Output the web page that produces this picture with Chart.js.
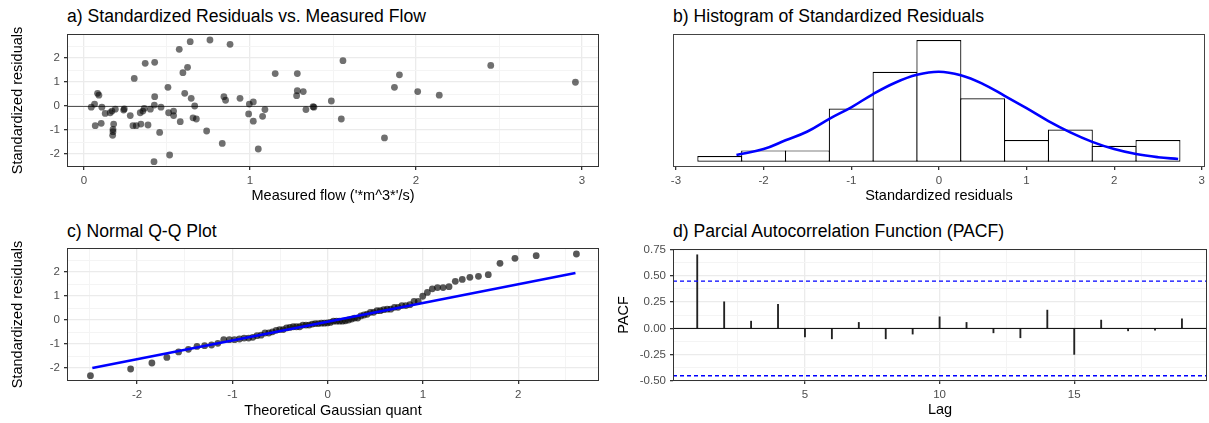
<!DOCTYPE html>
<html>
<head>
<meta charset="utf-8">
<script src="https://cdn.jsdelivr.net/npm/chart.js@4.4.1/dist/chart.umd.min.js"></script>
<style>
    body { margin: 0; background: #fff; width: 1209px; height: 423px; overflow: hidden; position: relative; font-family: "Liberation Sans", Arial, sans-serif; }
    canvas { position: absolute; }
    .ttl { position: absolute; font-size: 17.6px; line-height: 17px; color: #000; white-space: nowrap; }
</style>
</head>
<body>

<div class="ttl" style="left:67px; top:8px">a) Standardized Residuals vs. Measured Flow</div>
<div class="ttl" style="left:673px; top:8px">b) Histogram of Standardized Residuals</div>
<div class="ttl" style="left:67px; top:223px">c) Normal Q-Q Plot</div>
<div class="ttl" style="left:673px; top:223px">d) Parcial Autocorrelation Function (PACF)</div>

<canvas id="chartA" width="604" height="210" style="left:0; top:0"></canvas>
<canvas id="chartB" width="605" height="210" style="left:604px; top:0"></canvas>
<canvas id="chartC" width="604" height="213" style="left:0; top:210px"></canvas>
<canvas id="chartD" width="605" height="213" style="left:604px; top:210px"></canvas>

<script>
// a) residuals vs measured flow
const flow = [0.044, 0.064, 0.082, 0.090, 0.068, 0.104, 0.108, 0.128, 0.158, 0.169,
    0.189, 0.179, 0.175, 0.175, 0.173, 0.239, 0.243, 0.279, 0.303, 0.295,
    0.315, 0.343, 0.339, 0.355, 0.363, 0.386, 0.369, 0.426, 0.400, 0.424,
    0.426, 0.456, 0.464, 0.422, 0.506, 0.510, 0.540, 0.540, 0.516, 0.580,
    0.574, 0.596, 0.624, 0.640, 0.607, 0.646, 0.667, 0.657, 0.677, 0.759,
    0.880, 0.739, 0.843, 0.853, 0.833, 0.940, 0.996, 1.020, 0.992, 1.020,
    1.050, 1.076, 1.090, 1.152, 1.285, 1.285, 1.321, 1.281, 1.337, 1.380,
    1.385, 1.490, 1.560, 1.550, 1.810, 1.870, 1.900, 2.010, 2.140, 2.450,
    2.960];
const resid = [-0.05, 0.08, 0.53, 0.45, -0.82, -0.72, -0.05, -0.31, -0.28, -0.21,
    -0.13, -0.75, -0.97, -1.07, -1.22, -0.17, -0.12, -0.40, 1.15, -0.82,
    -0.82, -0.75, -0.28, -0.21, -0.10, -0.79, 1.78, 1.82, -0.13, 0.04,
    0.39, -1.10, -0.05, -2.32, 0.78, -0.28, -0.21, -0.40, -2.04, -0.65,
    2.36, 1.39, 1.61, 2.68, 0.53, 0.32, 0.00, -0.49, -0.54, 2.75,
    2.57, -1.04, 0.39, 0.24, -1.56, 0.32, 0.08, 0.17, -0.33, -0.63,
    -1.79, -0.43, -0.15, 1.35, 1.35, 0.64, 0.60, 0.43, -0.15, -0.03,
    -0.05, 0.21, 1.89, -0.54, -1.33, 0.78, 1.30, 0.60, 0.45, 1.69,
    0.99];

// b) histogram (density) and normal curve
const histMid = [-2.5, -2, -1.5, -1, -0.5, 0, 0.5, 1, 1.5, 2, 2.5];
const histDensity = [0.025, 0.050, 0.050, 0.236, 0.399, 0.539, 0.281, 0.096, 0.143, 0.071, 0.096];
const curveX = [-2.31, -2.0, -1.75, -1.5, -1.25, -1.0, -0.75, -0.5, -0.25, 0, 0.25, 0.5, 0.75, 1.0, 1.25, 1.5, 1.75, 2.0, 2.25, 2.5, 2.73];
const curveY = [0.030, 0.056, 0.095, 0.134, 0.190, 0.241, 0.300, 0.350, 0.385, 0.399, 0.383, 0.345, 0.292, 0.237, 0.180, 0.130, 0.088, 0.056, 0.034, 0.020, 0.012];

// c) theoretical quantiles (read off the plot) + reference line
const qqTheo = [-2.49, -2.068, -1.845, -1.688, -1.565, -1.462, -1.372, -1.292, -1.219, -1.153,
    -1.091, -1.032, -0.978, -0.926, -0.877, -0.830, -0.786, -0.742, -0.699, -0.658,
    -0.618, -0.580, -0.541, -0.504, -0.467, -0.432, -0.397, -0.362, -0.328, -0.294,
    -0.261, -0.228, -0.195, -0.162, -0.131, -0.099, -0.066, -0.035, -0.003, 0.028,
    0.06, 0.092, 0.123, 0.155, 0.186, 0.219, 0.251, 0.282, 0.315, 0.348,
    0.381, 0.414, 0.448, 0.482, 0.517, 0.552, 0.587, 0.624, 0.661, 0.700,
    0.738, 0.778, 0.819, 0.862, 0.906, 0.950, 0.997, 1.046, 1.098, 1.152,
    1.211, 1.273, 1.339, 1.412, 1.492, 1.582, 1.685, 1.808, 1.965, 2.188,
    2.61];
const qqLineX = [-2.47, 2.6];
const qqLineY = [-2.0, 1.96];

// d) PACF
const lags = [1, 2, 3, 4, 5, 6, 7, 8, 9, 10, 11, 12, 13, 14, 15, 16, 17, 18, 19];
const pacf = [0.70, 0.253, 0.069, 0.228, -0.08, -0.099, 0.057, -0.099, -0.054, 0.11,
    0.057, -0.042, -0.089, 0.174, -0.247, 0.079, -0.023, -0.016, 0.091];
const confLimits = [0.45, -0.45];

// tick / grid values
const aTicksX = [0, 1, 2, 3];
const aMinorX = [0.5, 1.5, 2.5];
const resTicksY = [-2, -1, 0, 1, 2];
const resMinorY = [-1.5, -0.5, 0.5, 1.5, 2.5];
const bTicksX = [-3, -2, -1, 0, 1, 2, 3];
const cTicksX = [-2, -1, 0, 1, 2];
const cMinorX = [-2.5, -1.5, -0.5, 0.5, 1.5, 2.5];
const dTicksX = [5, 10, 15];
const dMinorX = [2.5, 7.5, 12.5, 17.5];
const dTicksY = [-0.5, -0.25, 0, 0.25, 0.5, 0.75];
const dMinorY = [-0.375, -0.125, 0.125, 0.375, 0.625];

const FONT = "'Liberation Sans', Arial, sans-serif";
Chart.defaults.font.family = FONT;

function axis(o) {
    const major = o.major;
    const all = major.concat(o.minor || []).sort((a, b) => a - b);
    const isMajor = (c) => c.tick && major.includes(c.tick.value);
    return {
        type: "linear",
        position: o.position,
        min: o.min,
        max: o.max,
        offset: false,
        afterBuildTicks: (s) => { s.ticks = all.map((v) => ({ value: v })); },
        afterFit: (s) => {
            if(o.position == "bottom") s.height = o.size; else s.width = o.size;
        },
        border: { display: false },
        grid: {
            display: true,
            offset: false,
            drawOnChartArea: o.grid !== false,
            color: (c) => isMajor(c) ? "#EBEBEB" : "#F4F4F4",
            lineWidth: (c) => isMajor(c) ? 1.3 : 1,
            tickLength: 3,
            tickColor: (c) => isMajor(c) ? "#333333" : "rgba(0,0,0,0)"
        },
        ticks: {
            autoSkip: false,
            maxRotation: 0,
            padding: 4,
            color: "#4D4D4D",
            font: { size: 11.5 },
            callback: (v) => major.includes(v) ? (o.fmt ? o.fmt(v) : String(v)) : ""
        },
        title: {
            display: !!o.title,
            text: o.title,
            color: "#000",
            font: { size: 14.5 },
            padding: { top: o.titlePad, bottom: o.titlePad }
        }
    };
}

// frame around the panel + horizontal reference lines
function framePlugin(hlines, frameColor) {
    return {
        id: "frame",
        afterDatasetsDraw(chart) {
            const { ctx, chartArea: a, scales } = chart;
            hlines.forEach((h) => {
                const y = scales.y.getPixelForValue(h.value);
                ctx.save();
                ctx.strokeStyle = h.color;
                ctx.lineWidth = h.width || 1;
                ctx.setLineDash(h.dash || []);
                ctx.beginPath();
                ctx.moveTo(a.left, y);
                ctx.lineTo(a.right, y);
                ctx.stroke();
                ctx.restore();
            });
        },
        afterDraw(chart) {
            const { ctx, chartArea: a } = chart;
            ctx.save();
            ctx.strokeStyle = frameColor;
            ctx.lineWidth = 1;
            ctx.setLineDash([]);
            ctx.strokeRect(Math.round(a.left) + 0.5, Math.round(a.top) + 0.5,
                Math.round(a.right - a.left) - 1, Math.round(a.bottom - a.top) - 1);
            ctx.restore();
        }
    };
}

function baseOptions(padding) {
    return {
        responsive: false,
        animation: false,
        devicePixelRatio: 1,
        layout: { padding: padding },
        plugins: { legend: { display: false }, tooltip: { enabled: false } }
    };
}

// ---- a)
const optA = baseOptions({ left: 0, top: 34, right: 5, bottom: 0 });
optA.scales = {
    x: axis({ position: "bottom", min: -0.102, max: 3.102, major: aTicksX, minor: aMinorX, size: 43,
        title: "Measured flow ('*m^3*'/s)", titlePad: 5.3 }),
    y: axis({ position: "left", min: -2.54, max: 3.0, major: resTicksY, minor: resMinorY, size: 67,
        title: "Standardized residuals", titlePad: 9 })
};
new Chart(document.getElementById("chartA"), {
    type: "scatter",
    data: {
        datasets: [{
            data: flow.map((f, i) => ({ x: f, y: resid[i] })),
            backgroundColor: "rgba(0,0,0,0.56)",
            borderWidth: 0,
            pointRadius: 3.4
        }]
    },
    options: optA,
    plugins: [{
        id: "zeroA",
        beforeDatasetsDraw(chart) {
            const { ctx, chartArea: a, scales } = chart;
            const y = Math.round(scales.y.getPixelForValue(0)) + 0.5;
            ctx.save();
            ctx.strokeStyle = "#555555";
            ctx.lineWidth = 1;
            ctx.beginPath();
            ctx.moveTo(a.left, y);
            ctx.lineTo(a.right, y);
            ctx.stroke();
            ctx.restore();
        }
    }, framePlugin([], "#333333")]
});

// ---- b)
const optB = baseOptions({ left: 69, top: 34, right: 3, bottom: 0 });
optB.scales = {
    x: axis({ position: "bottom", min: -3.034, max: 3.034, major: bTicksX, size: 43, grid: false,
        title: "Standardized residuals", titlePad: 5.3 }),
    y: { type: "linear", display: false, min: -0.0235, max: 0.566 }
};
new Chart(document.getElementById("chartB"), {
    type: "bar",
    data: {
        datasets: [{
            type: "line",
            order: 0,
            data: curveX.map((x, i) => ({ x: x, y: curveY[i] })),
            borderColor: "#0000FF",
            borderWidth: 2.6,
            pointRadius: 0,
            tension: 0.4
        }, {
            type: "bar",
            order: 1,
            data: histMid.map((m, i) => ({ x: m, y: histDensity[i] })),
            backgroundColor: "#FFFFFF",
            borderColor: "#000000",
            borderWidth: 1.2,
            borderSkipped: false,
            categoryPercentage: 1,
            barPercentage: 1.027,
            grouped: false
        }]
    },
    options: optB,
    plugins: [framePlugin([], "#444444")]
});

// ---- c)
const optC = baseOptions({ left: 0, top: 38, right: 5, bottom: 0 });
optC.scales = {
    x: axis({ position: "bottom", min: -2.736, max: 2.847, major: cTicksX, minor: cMinorX, size: 42,
        title: "Theoretical Gaussian quant", titlePad: 3.1 }),
    y: axis({ position: "left", min: -2.54, max: 3.0, major: resTicksY, minor: resMinorY, size: 67,
        title: "Standardized residuals", titlePad: 9 })
};
const qqSample = resid.slice().sort((a, b) => a - b);
new Chart(document.getElementById("chartC"), {
    type: "scatter",
    data: {
        datasets: [{
            type: "line",
            order: 0,
            data: qqLineX.map((x, i) => ({ x: x, y: qqLineY[i] })),
            borderColor: "#0000FF",
            borderWidth: 2.6,
            pointRadius: 0
        }, {
            order: 1,
            data: qqTheo.map((t, i) => ({ x: t, y: qqSample[i] })),
            backgroundColor: "rgba(0,0,0,0.66)",
            borderWidth: 0,
            pointRadius: 3.4
        }]
    },
    options: optC,
    plugins: [framePlugin([], "#333333")]
});

// ---- d)
const optD = baseOptions({ left: 0, top: 39, right: 2, bottom: 0 });
optD.scales = {
    x: axis({ position: "bottom", min: 0.1, max: 19.93, major: dTicksX, minor: dMinorX, size: 42,
        title: "Lag", titlePad: 4.1 }),
    y: axis({ position: "left", min: -0.5, max: 0.755, major: dTicksY, minor: dMinorY, size: 69,
        title: "PACF", titlePad: 10.8, fmt: (v) => v.toFixed(2) })
};
new Chart(document.getElementById("chartD"), {
    type: "bar",
    data: {
        datasets: [{
            data: lags.map((l, i) => ({ x: l, y: pacf[i] })),
            backgroundColor: "#222222",
            borderWidth: 0,
            barThickness: 1.2,
            grouped: false
        }]
    },
    options: optD,
    plugins: [framePlugin([
        { value: 0, color: "#000000" },
        { value: confLimits[0], color: "#0000FF", dash: [4, 3], width: 1.4 },
        { value: confLimits[1], color: "#0000FF", dash: [4, 3], width: 1.4 }
    ], "#333333")]
});
</script>
</body>
</html>
